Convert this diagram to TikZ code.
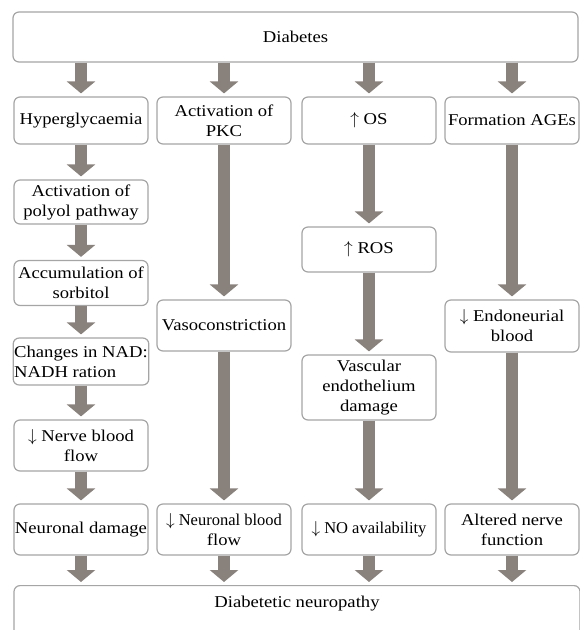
\documentclass[tikz,border=0pt]{standalone}
\usepackage{fontspec}
\setmainfont{Liberation Serif}[FakeStretch=1.13]
\newfontfamily\narrowfont{Liberation Serif}
\usetikzlibrary{arrows.meta}
\definecolor{arrowgray}{RGB}{136,129,124}
\definecolor{boxgray}{RGB}{165,165,165}

\begin{document}
\begin{tikzpicture}[x=1pt, y=-1pt,
    stepnode/.style={draw=boxgray, fill=white, line width=1.2pt, rounded corners=6pt, minimum width=134pt, minimum height=46pt, inner xsep=1pt, align=center, font=\fontsize{16.5}{20}\selectfont},
    flow/.style={draw=arrowgray, line width=12pt, -{Triangle[width=28pt,length=12pt]}, shorten >=3pt}
    ]
    \clip (0,0) rectangle (580,630);

    \node [stepnode, minimum width=565pt, minimum height=50pt] (dia) at (295.5,37) {Diabetes};

    \node [stepnode, minimum height=47pt] (hyp) at (81,120.5) {Hyperglycaemia};
    \node [stepnode, minimum height=44pt] (pol) at (81,202) {Activation of\\polyol pathway};
    \node [stepnode, minimum height=45pt] (acc) at (81,283) {Accumulation of\\sorbitol};
    \node [stepnode, minimum height=47pt, align=left] (nad) at (81,361.5) {Changes in NAD:\\NADH ration};
    \node [stepnode, minimum height=51pt] (nbf) at (81,445.5) {$\downarrow$ Nerve blood\\flow};
    \node [stepnode, minimum height=51pt] (ndam) at (81,529.5) {Neuronal damage};

    \node [stepnode, minimum height=47pt] (pkc) at (224,120.5) {Activation of\\PKC};
    \node [stepnode, minimum height=51pt] (vaso) at (224,325.5) {Vasoconstriction};
    \node [stepnode, minimum height=51pt] (nbl) at (224,529.5) {\narrowfont $\downarrow$ Neuronal blood\\flow};

    \node [stepnode, minimum height=47pt] (os) at (369,120.5) {$\uparrow$ OS};
    \node [stepnode, minimum height=45pt] (ros) at (369,249.5) {$\uparrow$ ROS};
    \node [stepnode, minimum height=65pt] (vasc) at (369,387.5) {Vascular\\endothelium\\damage};
    \node [stepnode, minimum height=51pt] (noav) at (369,529.5) {\narrowfont $\downarrow$ NO availability};

    \node [stepnode, minimum height=47pt] (ages) at (512,120.5) {Formation AGEs};
    \node [stepnode, minimum height=52pt] (endo) at (512,326) {$\downarrow$ Endoneurial\\blood};
    \node [stepnode, minimum height=51pt] (alt) at (512,529.5) {Altered nerve\\function};

    \node [stepnode, minimum width=566pt, anchor=north, text height=12pt, text depth=40pt, inner ysep=10pt] (neuro) at (297,585) {Diabetetic neuropathy};

    % from diabetes
    \draw [flow] (dia.south -| hyp) -- (hyp);
    \draw [flow] (dia.south -| pkc) -- (pkc);
    \draw [flow] (dia.south -| os) -- (os);
    \draw [flow] (dia.south -| ages) -- (ages);

    % polyol pathway
    \draw [flow] (hyp) -- (pol);
    \draw [flow] (pol) -- (acc);
    \draw [flow] (acc) -- (nad);
    \draw [flow] (nad) -- (nbf);
    \draw [flow] (nbf) -- (ndam);

    % PKC
    \draw [flow] (pkc) -- (vaso);
    \draw [flow] (vaso) -- (nbl);

    % oxidative stress
    \draw [flow] (os) -- (ros);
    \draw [flow] (ros) -- (vasc);
    \draw [flow] (vasc) -- (noav);

    % AGEs
    \draw [flow] (ages) -- (endo);
    \draw [flow] (endo) -- (alt);

    % to neuropathy
    \draw [flow] (ndam) -- (ndam |- neuro.north);
    \draw [flow] (nbl) -- (nbl |- neuro.north);
    \draw [flow] (noav) -- (noav |- neuro.north);
    \draw [flow] (alt) -- (alt |- neuro.north);
\end{tikzpicture}
\end{document}
